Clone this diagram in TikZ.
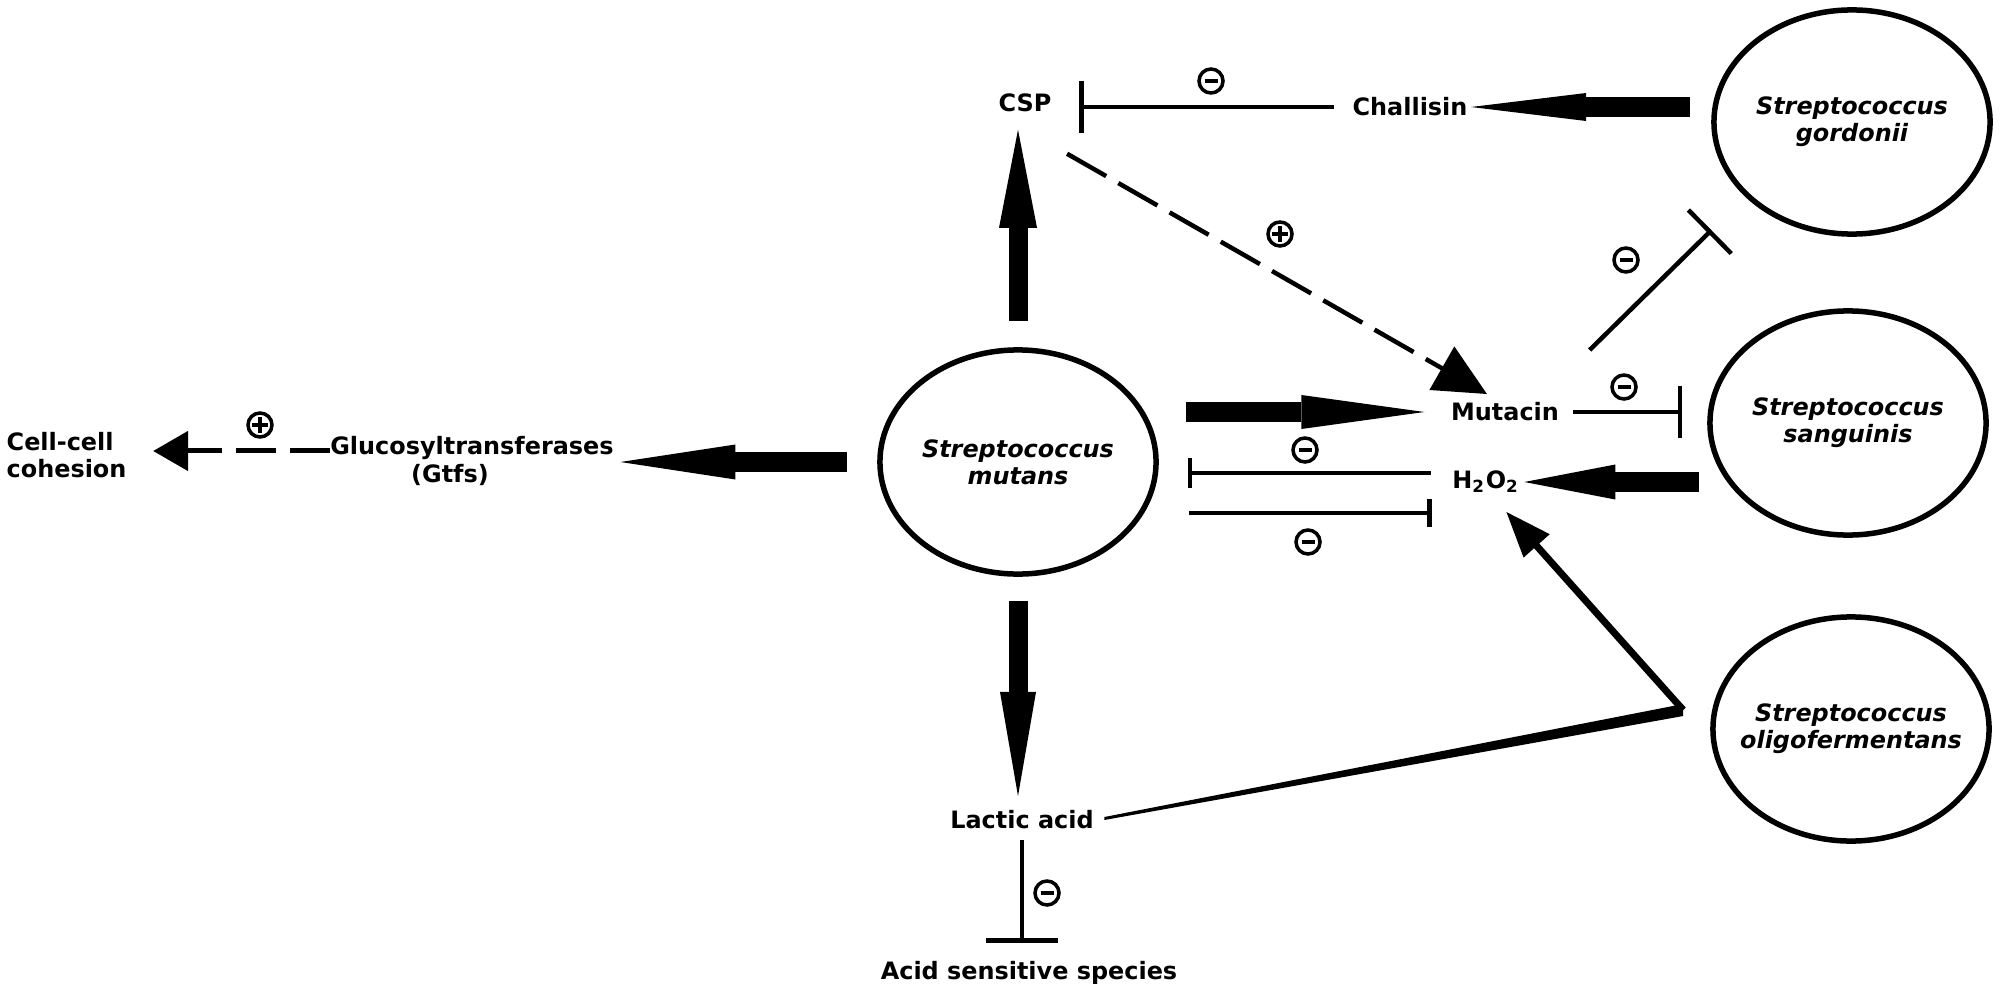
\documentclass[tikz,border=0pt]{standalone}
\usepackage{fontspec}
\setmainfont{DejaVu Sans}
\usetikzlibrary{arrows.meta,shapes.geometric}

\begin{document}
\begin{tikzpicture}[x = 0.01cm, y = -0.01cm]

    \tikzset{
      txt/.style={
        inner sep=0pt,
        align=center,
        font=\bfseries\fontsize{6.8}{7.7}\selectfont,
      },
      species/.style={
        draw,
        ellipse,
        line width = 0.055cm,
        minimum width = 2.76cm,
        minimum height = 2.24cm,
        inner xsep = -0.2cm,
        inner ysep = 0pt,
        align=center,
        font=\bfseries\itshape\fontsize{6.8}{7.7}\selectfont,
      },
      signbox/.style={
        circle,
        draw,
        line width = 0.035cm,
        minimum size = 0.24cm,
        inner sep=0pt,
      },
      minussign/.style={
        signbox,
        path picture={\draw[line width = 0.04cm] ([xshift=-0.065cm]path picture bounding box.center) -- ([xshift=0.065cm]path picture bounding box.center);},
      },
      plussign/.style={
        signbox,
        path picture={\draw[line width = 0.04cm] ([xshift=-0.08cm]path picture bounding box.center) -- ([xshift=0.08cm]path picture bounding box.center) ([yshift=-0.08cm]path picture bounding box.center) -- ([yshift=0.08cm]path picture bounding box.center);},
      },
      thickarrow/.style={
        line width = 0.19cm,
        -{Triangle[#1, line width=0pt]},
      },
      inhib/.style={
        line width = 0.045cm,
        -{Bar[width=#1]},
      },
    }
    \useasboundingbox (0,0) rectangle (2000,991);

	\draw (1018,462) node[species] (mutans) {Streptococcus\\mutans};
	\draw (1852,122) node[species] (gordonii) {Streptococcus\\gordonii};
	\draw (1848,423) node[species] (sanguinis) {Streptococcus\\sanguinis};
	\draw (1851,729) node[species] (oligo) {Streptococcus\\oligofermentans};
	\draw (6,455) node[txt, anchor = west, align = left] (cell) {Cell-cell\\cohesion};
	\draw (472,461) node[txt] (gtf) {Glucosyltransferases\\(Gtfs)\hspace*{0.44cm}};
	\draw (1025,103) node[txt] (csp) {CSP};
	\draw (1410,107) node[txt] (challisin) {Challisin};
	\draw (1505,412) node[txt] (mutacin) {Mutacin};
	\draw (1486,482) node[txt] (hydro) {H\textsubscript{2}O\textsubscript{2}};
	\draw (1022,820) node[txt] (lactic) {Lactic acid};
	\draw (1029,973) node[txt] (acid) {Acid sensitive species};

	\draw (260,425) node[plussign] (p1) {};
	\draw (1211,81) node[minussign] (m1) {};
	\draw (1280,234) node[plussign] (p2) {};
	\draw (1626,260) node[minussign] (m2) {};
	\draw (1624,387) node[minussign] (m3) {};
	\draw (1305,450) node[minussign] (m4) {};
	\draw (1308,542) node[minussign] (m5) {};
	\draw (1047,893) node[minussign] (m6) {};

	\coordinate (gtfline) at ([yshift=0.1cm]gtf.west);
	\coordinate (hup) at ([yshift=0.09cm]hydro.west);
	\coordinate (hdown) at ([yshift=-0.31cm]hydro.west);
	\coordinate (vtx) at ([shift={(-27,-19)}]oligo.west);

	\draw[thickarrow={length=0.98cm, width=0.38cm}, shorten <= 0.26cm, shorten >= 0.17cm] (mutans.north) -- (mutans.north |- csp.south);
	\draw[thickarrow={length=1.04cm, width=0.36cm}, shorten <= 0.24cm, shorten >= 0.14cm] (mutans.south) -- (mutans.south |- lactic.north);
	\draw[thickarrow={length=1.15cm, width=0.35cm}, shorten <= 0.3cm, shorten >= 0.06cm] (mutans.west) -- (mutans.west -| gtf.east);
	\draw[thickarrow={length=1.23cm, width=0.34cm}, shorten <= 0.27cm, shorten >= 0.26cm] (mutans.east |- mutacin.west) -- (mutacin.west);
	\draw[thickarrow={length=1.15cm, width=0.28cm}, shorten <= 0.21cm, shorten >= 0.03cm] (gordonii.west |- challisin.east) -- (challisin.east);
	\draw[thickarrow={length=0.91cm, width=0.35cm}, shorten <= 0.08cm, shorten >= 0.04cm] (sanguinis.west |- hydro.east) -- (hydro.east);

	\draw[inhib=0.51cm, shorten <= 0.18cm, shorten >= 0.27cm] (challisin.west) -- (challisin.west -| csp.east);
	\draw[inhib=0.52cm, shorten <= 0.13cm, shorten >= 0.25cm] (mutacin.east) -- (mutacin.east -| sanguinis.west);
	\draw[inhib=0.29cm, shorten <= 0.21cm, shorten >= 0.29cm] (hup) -- (hup -| mutans.east);
	\draw[inhib=0.28cm, shorten <= 0.3cm, shorten >= 0.2cm] (hdown -| mutans.east) -- (hdown);
	\draw[inhib=0.61cm] ([shift={(30,-52)}]mutacin.north east) -- ([shift={(-41,27)}]gordonii.south west);
	\draw[inhib=0.71cm, shorten <= 0.1cm, shorten >= 0.18cm] (lactic.south) -- (lactic.south |- acid.north);

	\draw[line width = 0.045cm, dash pattern = on 0.45cm off 0.14cm, -{Triangle[length=0.52cm, width=0.49cm]}] ([shift={(15,41)}]csp.south east) -- ([shift={(-18,-8)}]mutacin.north);
	\draw[line width = 0.05cm, dash pattern = on 0.4cm off 0.14cm, -{Triangle[length=0.35cm, width=0.39cm]}, shorten >= 0.26cm] (gtfline) -- (gtfline -| cell.east);

	\fill ([shift={(10,-3)}]lactic.east) -- ([yshift=0.06cm]vtx) -- ([yshift=-0.06cm]vtx) -- ([shift={(10,0)}]lactic.east) -- cycle;
	\draw[line width = 0.07cm, -{Triangle[length=0.46cm, width=0.33cm]}] (vtx) -- ([shift={(20,18)}]hydro.south);

\end{tikzpicture}
\end{document}
